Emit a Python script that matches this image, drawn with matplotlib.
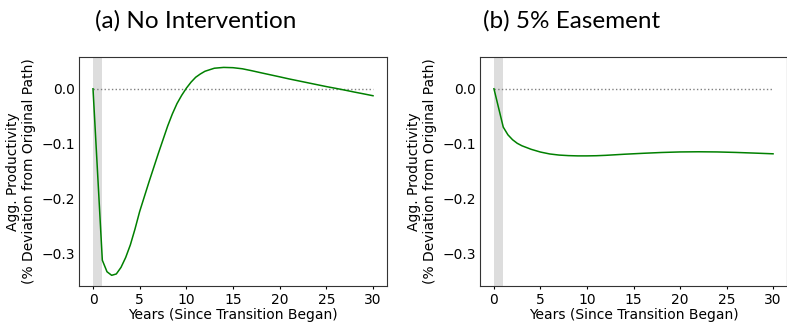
import matplotlib
matplotlib.use("Agg")
import matplotlib.pyplot as plt

# Years since transition began
years_a = [0, 1, 1.5, 2, 2.5, 3, 3.5, 4, 4.5, 5, 5.5, 6, 6.5, 7, 7.5, 8, 8.5, 9,
           9.5, 10, 10.5, 11, 11.5, 12, 13, 14, 15, 16, 17, 18, 19, 20, 21, 22,
           23, 24, 25, 26, 27, 28, 29, 30]
prod_a = [0.0, -0.313, -0.334, -0.3405, -0.338, -0.326, -0.308, -0.285, -0.256,
          -0.224, -0.197, -0.170, -0.144, -0.118, -0.093, -0.068, -0.046, -0.027,
          -0.012, 0.001, 0.012, 0.021, 0.027, 0.032, 0.0375, 0.039, 0.0385,
          0.0365, 0.033, 0.0292, 0.0255, 0.0218, 0.018, 0.0145, 0.011, 0.0075,
          0.004, 0.0008, -0.0025, -0.006, -0.0093, -0.0127]

years_b = [0, 1, 1.5, 2, 2.5, 3, 4, 5, 6, 7, 8, 9, 10, 11, 12, 14, 16, 18, 20,
           22, 24, 26, 28, 30]
prod_b = [0.0, -0.070, -0.084, -0.093, -0.0995, -0.104, -0.1105, -0.1155,
          -0.119, -0.121, -0.122, -0.1225, -0.1225, -0.1222, -0.1215, -0.1195,
          -0.1178, -0.1163, -0.1153, -0.115, -0.1153, -0.1162, -0.1174, -0.1187]

titles = ["(a) No Intervention", "(b) 5% Easement"]
xlabel = "Years (Since Transition Began)"
ylabel = "Agg. Productivity\n(% Deviation from Original Path)"
yticks = [-0.3, -0.2, -0.1, 0.0]
xticks = [0, 5, 10, 15, 20, 25, 30]
shade = (0, 1)

fig = plt.figure(figsize=(7.87, 3.23), dpi=100)
W, H = 787, 323
axA = fig.add_axes([79 / W, 1 - 286 / H, (387 - 79) / W, (286 - 57) / H])
axB = fig.add_axes([480 / W, 1 - 286 / H, (787 - 480) / W, (286 - 57) / H], sharey=axA)

for ax, xs, ys in [(axA, years_a, prod_a), (axB, years_b, prod_b)]:
    ax.axvspan(shade[0], shade[1], color="#dddddd", lw=0, zorder=0)
    ax.plot([0, 30], [0, 0], ls=":", color="grey", lw=1, zorder=1)
    ax.plot(xs, ys, color="green", lw=1.1, zorder=2)
    ax.set_xticks(xticks)
    ax.set_yticks(yticks)
    ax.tick_params(axis="x", labelsize=10, length=2.5, width=0.8, pad=2.5)
    ax.tick_params(axis="y", labelsize=10, length=0, pad=2.8, labelleft=True)
    ax.set_xlabel(xlabel, fontsize=10, labelpad=1)
    ax.set_ylabel(ylabel, fontsize=10, labelpad=4)
    ax.set_xlim(-1.5, 31.5)
    for s in ax.spines.values():
        s.set_color("#333333")

axA.set_ylim(-0.360, 0.058)

fig.text(95 / W, 1 - 21 / H, titles[0], fontsize=17.5, family="Lato", va="center", ha="left")
fig.text(483 / W, 1 - 21 / H, titles[1], fontsize=17.5, family="Lato", va="center", ha="left")

fig.savefig("out.png", dpi=100)
